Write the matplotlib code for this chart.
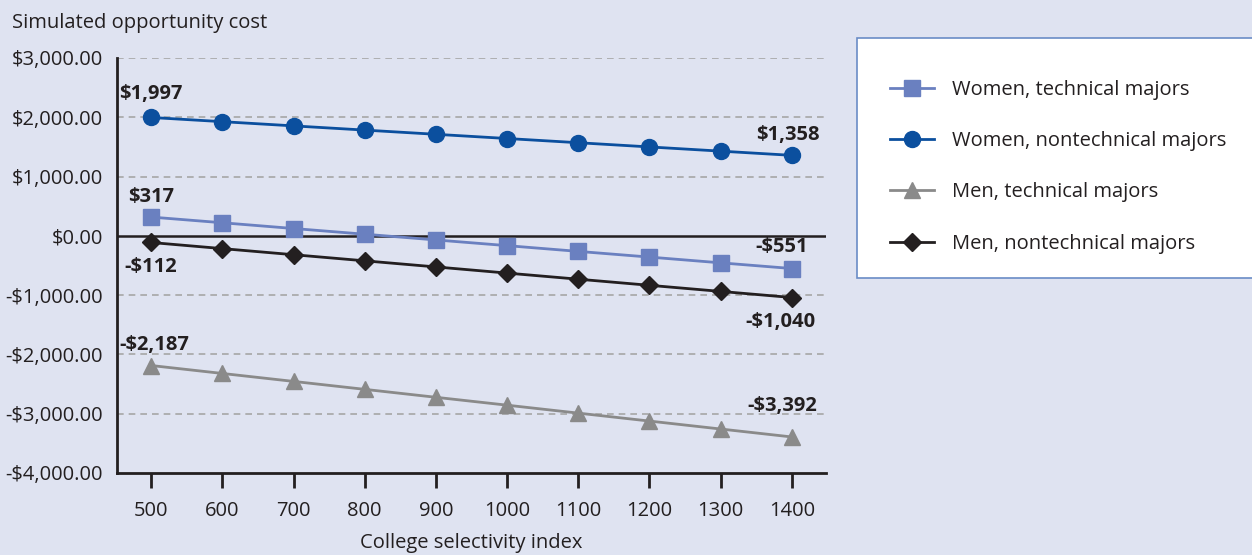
import matplotlib.pyplot as plt
from matplotlib.patches import Rectangle
from matplotlib.ticker import FuncFormatter

plt.rcParams['font.family'] = ['Open Sans', 'DejaVu Sans']

selectivity = [500, 600, 700, 800, 900, 1000, 1100, 1200, 1300, 1400]
women_technical = [317, 221, 124, 28, -69, -165, -262, -358, -455, -551]
women_nontechnical = [1997, 1926, 1855, 1784, 1713, 1642, 1571, 1500, 1429, 1358]
men_technical = [-2187, -2321, -2455, -2589, -2723, -2856, -2990, -3124, -3258, -3392]
men_nontechnical = [-112, -215, -318, -421, -524, -628, -731, -834, -937, -1040]

labels = ["Women, technical majors", "Women, nontechnical majors",
          "Men, technical majors", "Men, nontechnical majors"]

bg = '#dfe3f1'
txt = '#231f20'
fs = 14.5

fig = plt.figure(figsize=(12.52, 5.55), dpi=100, facecolor=bg)
ax = fig.add_axes([117 / 1252, 1 - 473 / 555, (826 - 117) / 1252, (473 - 58) / 555])
ax.set_facecolor(bg)

styles = [
    (women_technical, '#6a80c0', 's', 11.5),
    (women_nontechnical, '#0b4f9e', 'o', 11.5),
    (men_technical, '#8a8a8a', '^', 12),
    (men_nontechnical, '#231f20', 'D', 9.5),
]
handles = []
for (vals, color, marker, ms), lab in zip(styles, labels):
    h, = ax.plot(selectivity, vals, color=color, marker=marker, markersize=ms,
                 linewidth=2, label=lab, zorder=3)
    handles.append(h)

ax.set_xlim(452, 1448)
ax.set_ylim(-4000, 3000)
ax.set_xticks(selectivity)
ax.set_yticks(range(-4000, 3001, 1000))
ax.yaxis.set_major_formatter(FuncFormatter(
    lambda v, p: ('-$' if v < 0 else '$') + f"{abs(v):,.2f}"))

for y in range(-4000, 3001, 1000):
    if y in (0, -4000):
        continue
    ax.axhline(y, color='#a6a6a6', linestyle=(0, (4, 3)), linewidth=1.2, zorder=1)
ax.axhline(0, color=txt, linewidth=1.8, zorder=2)

for side in ('top', 'right'):
    ax.spines[side].set_visible(False)
for side in ('left', 'bottom'):
    ax.spines[side].set_linewidth(2)
    ax.spines[side].set_color(txt)
ax.tick_params(axis='y', length=0, pad=10, labelsize=fs, labelcolor=txt)
ax.tick_params(axis='x', length=10.5, width=2, color=txt, pad=10,
               labelsize=fs, labelcolor=txt, direction='out')

# endpoint value labels
def fmt(v):
    return ('-$' if v < 0 else '$') + f"{abs(v):,}"

ann = [
    (women_nontechnical, 0, 17, 0), (women_nontechnical, -1, 14.5, -3),
    (women_technical, 0, 14.5, 0), (women_technical, -1, 15.5, -7),
    (men_nontechnical, 0, -17.5, 0), (men_nontechnical, -1, -17.5, -8),
    (men_technical, 0, 15, 2), (men_technical, -1, 22, -7),
]
for vals, i, dy, dx in ann:
    ax.annotate(fmt(vals[i]), (selectivity[i], vals[i]), xytext=(dx, dy),
                textcoords='offset points', ha='center', va='center',
                fontsize=fs, fontweight='bold', color=txt)

fig.text(12 / 1252, 1 - 23 / 555, "Simulated opportunity cost", fontsize=fs,
         color=txt, va='center', ha='left')
ax.set_xlabel("College selectivity index", fontsize=fs, color=txt, labelpad=8)

# legend box
fig.patches.append(Rectangle((857 / 1252, 1 - 278 / 555), 400 / 1252, 240 / 555,
                             transform=fig.transFigure, facecolor='white',
                             edgecolor='#6a8cc6', linewidth=1.2, zorder=0))
fig.legend(handles=handles, loc='upper left',
           bbox_to_anchor=(890 / 1252, 1 - 80 / 555), frameon=False,
           fontsize=fs, handlelength=2.2, labelspacing=1.55, handletextpad=0.9,
           labelcolor=txt, borderaxespad=0, borderpad=0)

fig.savefig('out.png', dpi=100, facecolor=bg)
